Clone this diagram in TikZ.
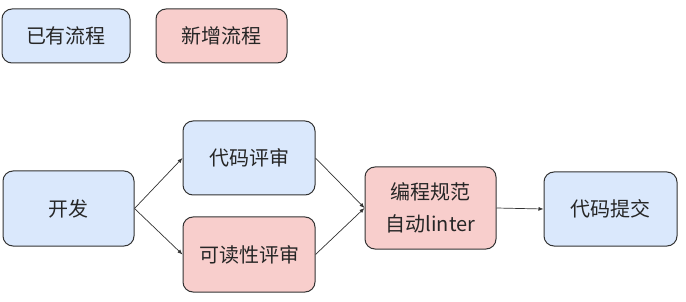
\documentclass[tikz,border=0pt]{standalone}
\usepackage{fontspec}
\setmainfont{Noto Sans CJK SC}
\usetikzlibrary{arrows.meta,positioning}
\definecolor{oldblue}{HTML}{DAE8FC}
\definecolor{newpink}{HTML}{F8CECC}
\definecolor{edge}{HTML}{333333}

\begin{document}
\begin{tikzpicture}[x=1pt,y=-1pt,>={Latex[length=5pt,width=4pt]},
    oldbox/.style={draw=edge,line width=1pt,rounded corners=10pt,fill=oldblue,
      text=black!85,font=\fontsize{20}{32}\selectfont,align=center},
    newbox/.style={oldbox,fill=newpink}]
    \useasboundingbox (0,0) rectangle (686,302);
    % legend
    \node[oldbox,minimum width=128pt,minimum height=54pt] (legold) at (66,36) {已有流程};
    \node[newbox,minimum width=131pt,minimum height=54pt] (legnew) at (221.5,36) {新增流程};
    % flow
    \node[oldbox,minimum width=131pt,minimum height=75pt] (dev) at (68.5,208.5) {开发};
    \node[oldbox,minimum width=132pt,minimum height=74pt] (review) at (249,158) {代码评审};
    \node[newbox,minimum width=132pt,minimum height=75pt] (readable) at (249,254.5) {可读性评审};
    \node[newbox,minimum width=131pt,minimum height=82pt] (lint) at (430.5,208) {编程规范\\自动linter};
    \node[oldbox,minimum width=133pt,minimum height=74pt] (commit) at (610.5,209) {代码提交};
    \draw[->,edge,line width=0.7pt] (dev.east) -- (review.west);
    \draw[->,edge,line width=0.7pt] (dev.east) -- (readable.west);
    \draw[->,edge,line width=0.7pt] (review.east) -- (lint.west);
    \draw[->,edge,line width=0.7pt] (readable.east) -- (lint.west);
    \draw[->,edge,line width=0.7pt] (lint.east) -- (commit.west);
  \end{tikzpicture}
\end{document}
